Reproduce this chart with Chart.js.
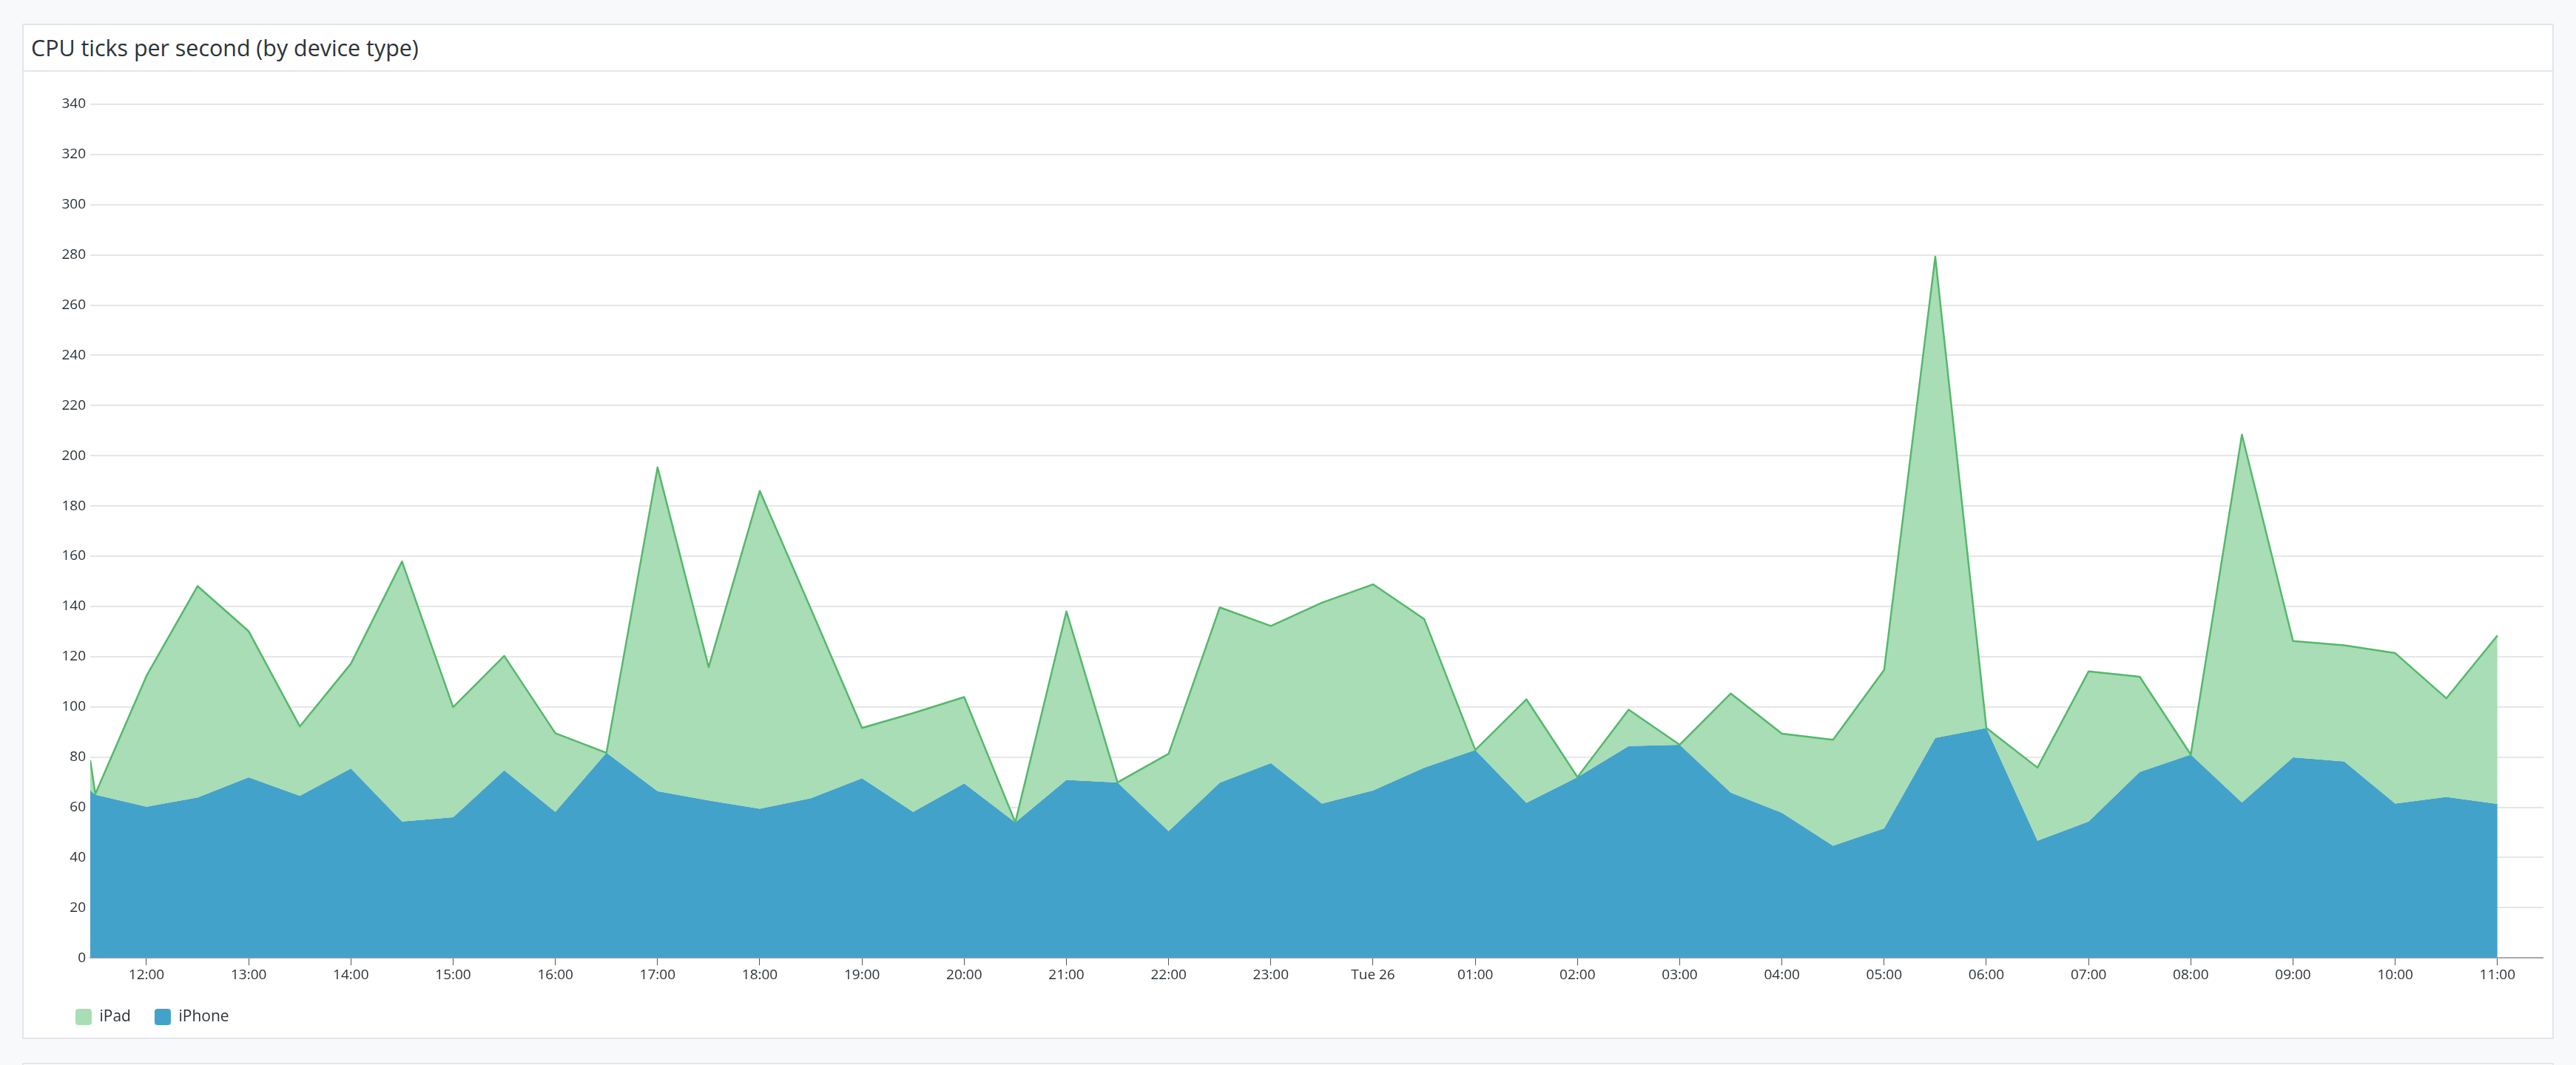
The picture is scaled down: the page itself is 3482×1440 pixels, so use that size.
<!DOCTYPE html>
<html>
<head>
<meta charset="utf-8">
<title>CPU ticks per second (by device type)</title>
<script src="https://cdn.jsdelivr.net/npm/chart.js@4.4.1/dist/chart.umd.min.js"></script>
<style>
  html, body { margin: 0; padding: 0; background: #f8f9fb; }
  body { width: 3482px; height: 1440px; position: relative; overflow: hidden; font-family: "Open Sans", "Noto Sans", sans-serif; }
  .panel { position: absolute; left: 30px; top: 32px; width: 3418px; height: 1369px; background: #fff; border: 2px solid #e3e5ea; }
  .panel h2 { margin: 0; height: 61px; border-bottom: 2px solid #e3e5ea; font-weight: 400; font-size: 30.4px; line-height: 61px; padding-left: 10px; color: #2c3339; }
  .chart-box { position: absolute; left: 38px; top: 76px; width: 3368px; height: 1286px; }
  .next { position: absolute; left: 30px; top: 1437px; width: 3418px; height: 20px; background: #fff; border: 2px solid #e3e5ea; }
</style>
</head>
<body>
<div class="panel">
  <h2>CPU ticks per second (by device type)</h2>
  <div class="chart-box"><canvas id="cpuTicksChart"></canvas></div>
</div>
<div class="next"></div>
<script>
'use strict';

// sample times (Mon 25 -> Tue 26)
const times = [
  '11:27', '11:30', '12:00', '12:30', '13:00', '13:30', '14:00', '14:30', '15:00', '15:30',
  '16:00', '16:30', '17:00', '17:30', '18:00', '18:30', '19:00', '19:30', '20:00', '20:30',
  '21:00', '21:30', '22:00', '22:30', '23:00', '23:30', '00:00', '00:30', '01:00', '01:30',
  '02:00', '02:30', '03:00', '03:30', '04:00', '04:30', '05:00', '05:30', '06:00', '06:30',
  '07:00', '07:30', '08:00', '08:30', '09:00', '09:30', '10:00', '10:30', '11:00'
];

const iphoneTicks = [
  66.7, 65.0, 60.2, 63.9, 71.9, 64.6, 75.5, 54.3, 56.0, 74.7,
  58.2, 81.7, 66.4, 62.7, 59.4, 63.6, 71.6, 58.2, 69.5, 54.0,
  70.9, 69.9, 50.5, 69.8, 77.6, 61.5, 66.7, 75.8, 82.8, 61.8,
  72.0, 84.4, 84.9, 65.8, 57.8, 44.7, 51.6, 87.6, 91.6, 46.7,
  54.3, 74.1, 81.0, 61.9, 79.9, 78.3, 61.5, 64.1, 61.3
];

const ipadTicks = [
  12.0, 0.3, 52.1, 84.2, 58.2, 27.6, 41.7, 103.6, 43.9, 45.6,
  31.3, 0, 129.0, 53.1, 126.6, 75.4, 20.0, 39.3, 34.4, 0,
  67.1, 0, 30.8, 69.8, 54.6, 80.0, 82.1, 59.2, 0, 41.2,
  0, 14.5, 0, 39.5, 31.5, 42.2, 63.1, 191.7, 0, 29.1,
  59.8, 37.9, 0, 146.5, 46.3, 46.2, 59.9, 39.3, 67.1
];

const xTickLabels = [
  '12:00', '13:00', '14:00', '15:00', '16:00', '17:00', '18:00', '19:00', '20:00', '21:00',
  '22:00', '23:00', 'Tue 26', '01:00', '02:00', '03:00', '04:00', '05:00', '06:00', '07:00',
  '08:00', '09:00', '10:00', '11:00'
];

// hh:mm -> hours since Mon 00:00, rolling over at midnight
function toHours(list) {
  let prev = -1, offset = 0;
  return list.map(t => {
    const [h, m] = t.split(':').map(Number);
    let v = h + m / 60 + offset;
    if (v < prev) { offset += 24; v += 24; }
    prev = v;
    return v;
  });
}

const xs = toHours(times);
const tickHours = toHours(xTickLabels.map(l => (l === 'Tue 26' ? '00:00' : l)));

const iphoneData = xs.map((x, i) => ({ x: x, y: iphoneTicks[i] }));
const ipadData = xs.map((x, i) => ({ x: x, y: iphoneTicks[i] + ipadTicks[i] }));

const textColor = '#2c3339';

new Chart(document.getElementById('cpuTicksChart'), {
  type: 'line',
  data: {
    datasets: [
      {
        label: 'iPad',
        data: ipadData,
        borderColor: '#55b86b',
        borderWidth: 2.5,
        borderJoinStyle: 'round',
        backgroundColor: '#a8ddb5',
        fill: '+1',
        pointRadius: 0,
        tension: 0
      },
      {
        label: 'iPhone',
        data: iphoneData,
        borderColor: '#43a2ca',
        borderWidth: 0,
        backgroundColor: '#43a2ca',
        fill: 'origin',
        pointRadius: 0,
        tension: 0
      }
    ]
  },
  options: {
    responsive: true,
    maintainAspectRatio: false,
    animation: false,
    layout: { padding: { top: 31, right: 0, left: 0, bottom: 0 } },
    plugins: {
      tooltip: { enabled: false },
      legend: {
        position: 'bottom',
        align: 'start',
        labels: {
          color: textColor,
          font: { size: 21, family: '"Open Sans", "Noto Sans", sans-serif' },
          boxWidth: 22,
          boxHeight: 22,
          padding: 32,
          useBorderRadius: true,
          borderRadius: 4,
          generateLabels: chart => {
            const items = Chart.defaults.plugins.legend.labels.generateLabels(chart);
            items.forEach(it => { it.strokeStyle = it.fillStyle; it.lineWidth = 0; });
            return items;
          }
        }
      }
    },
    scales: {
      x: {
        type: 'linear',
        min: xs[0],
        max: 35.45,
        afterBuildTicks: scale => { scale.ticks = tickHours.map(v => ({ value: v })); },
        ticks: {
          autoSkip: false,
          maxRotation: 0,
          padding: 2,
          color: textColor,
          font: { size: 19, family: '"Open Sans", "Noto Sans", sans-serif' },
          callback: (value, index) => xTickLabels[index]
        },
        grid: { drawOnChartArea: false, drawTicks: true, tickLength: 10, color: '#555', lineWidth: 1 },
        border: { color: '#a8a8a8', width: 2 }
      },
      y: {
        min: 0,
        max: 340,
        afterFit: scale => { scale.width = 52; },
        ticks: {
          stepSize: 20,
          padding: 6,
          color: textColor,
          font: { size: 19, family: '"Open Sans", "Noto Sans", sans-serif' }
        },
        grid: { color: '#e6e6e6', lineWidth: 2, drawTicks: false },
        border: { display: false }
      }
    }
  }
});
</script>
</body>
</html>
